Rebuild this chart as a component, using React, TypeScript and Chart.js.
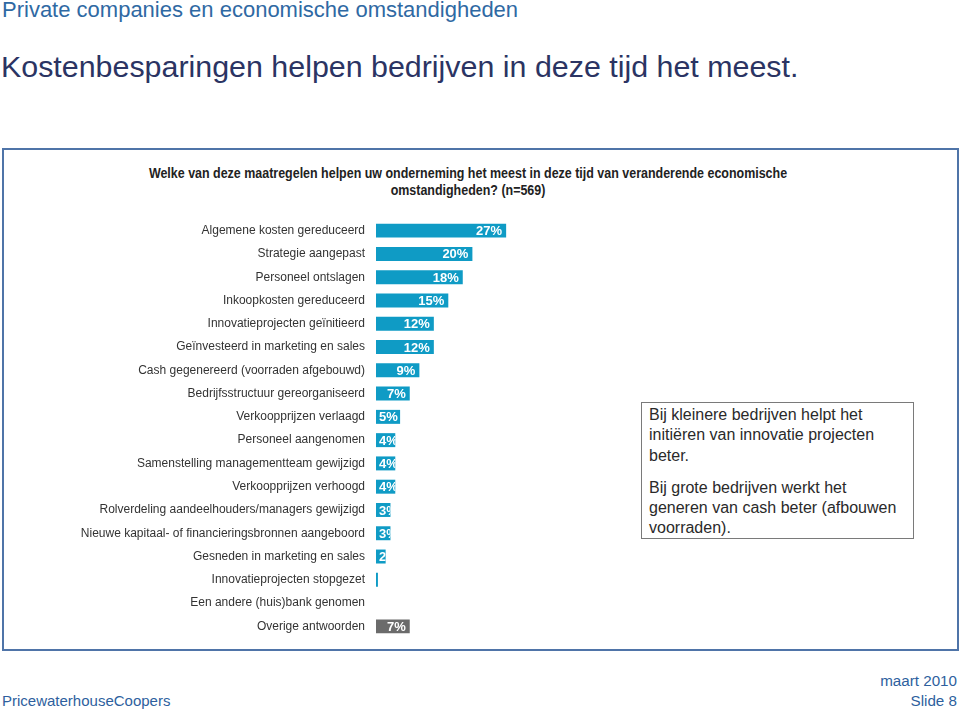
import React, { useEffect, useRef } from "react";
import { Chart, registerables } from "chart.js";

Chart.register(...registerables);

const categories = [
  "Algemene kosten gereduceerd",
  "Strategie aangepast",
  "Personeel ontslagen",
  "Inkoopkosten gereduceerd",
  "Innovatieprojecten geïnitieerd",
  "Geïnvesteerd in marketing en sales",
  "Cash gegenereerd (voorraden afgebouwd)",
  "Bedrijfsstructuur gereorganiseerd",
  "Verkoopprijzen verlaagd",
  "Personeel aangenomen",
  "Samenstelling managementteam gewijzigd",
  "Verkoopprijzen verhoogd",
  "Rolverdeling aandeelhouders/managers gewijzigd",
  "Nieuwe kapitaal- of financieringsbronnen aangeboord",
  "Gesneden in marketing en sales",
  "Innovatieprojecten stopgezet",
  "Een andere (huis)bank genomen",
  "Overige antwoorden",
];

const values = [27, 20, 18, 15, 12, 12, 9, 7, 5, 4, 4, 4, 3, 3, 2, 0.4, 0, 7];
const valueLabels = ["27%", "20%", "18%", "15%", "12%", "12%", "9%", "7%", "5%", "4%", "4%", "4%", "3%", "3%", "2%", "0%", "", "7%"];
const barColors = values.map((_, i) => (i === values.length - 1 ? "#6b6b6b" : "#0f9bc5"));

const FONT = "'Liberation Sans', Arial, sans-serif";

const labelPlugin = {
  id: "barLabels",
  afterDatasetsDraw(chart: any) {
    const ctx = chart.ctx;
    const meta = chart.getDatasetMeta(0);
    meta.data.forEach((bar: any, i: number) => {
      const txt = valueLabels[i];
      if (!txt) return;
      const left = Math.min(bar.base, bar.x);
      const right = Math.max(bar.base, bar.x);
      const h = bar.height;
      if (right - left < 1) return;
      ctx.save();
      ctx.beginPath();
      ctx.rect(left, bar.y - h / 2, right - left, h);
      ctx.clip();
      ctx.fillStyle = "#ffffff";
      ctx.font = "bold 13px " + FONT;
      ctx.textAlign = "left";
      ctx.textBaseline = "middle";
      const w = ctx.measureText(txt).width;
      let x = right - 4 - w;
      if (x < left + 3) x = left + 3;
      ctx.fillText(txt, x, bar.y + 1);
      ctx.restore();
    });
  },
};

function BarChart() {
  const ref = useRef<HTMLCanvasElement | null>(null);
  useEffect(() => {
    if (!ref.current) return;
    const chart = new Chart(ref.current, {
      type: "bar",
      data: {
        labels: categories,
        datasets: [
          {
            data: values,
            backgroundColor: barColors,
            borderWidth: 0,
            barPercentage: 0.6,
            categoryPercentage: 1,
          },
        ],
      },
      options: {
        indexAxis: "y",
        animation: false,
        responsive: false,
        maintainAspectRatio: false,
        layout: { padding: 0 },
        plugins: { legend: { display: false }, tooltip: { enabled: false } },
        scales: {
          x: { display: false, min: 0, max: 50 },
          y: {
            grid: { display: false, drawTicks: false },
            border: { display: false },
            ticks: {
              color: "#333333",
              font: { family: FONT, size: 12 },
              padding: 11,
              autoSkip: false,
            },
            afterFit(scale: any) {
              scale.width = 376;
              scale.paddingTop = 0;
              scale.paddingBottom = 0;
            },
          },
        },
      },
      plugins: [labelPlugin],
    });
    return () => chart.destroy();
  }, []);
  return (
    <canvas
      ref={ref}
      width={617}
      height={419}
      style={{ position: "absolute", left: 0, top: 219, width: 617, height: 419 }}
    />
  );
}

export default function App() {
  useEffect(() => {
    document.body.style.margin = "0";
  }, []);
  return (
    <div style={{ position: "relative", width: 960, height: 711, background: "#fff", fontFamily: FONT, overflow: "hidden" }}>
      <div style={{ position: "absolute", left: 2, top: -3, fontSize: 22, color: "#2f69a3", whiteSpace: "nowrap" }}>
        Private companies en economische omstandigheden
      </div>
      <div style={{ position: "absolute", left: 1, top: 49, fontSize: 30.4, color: "#2b3463", whiteSpace: "nowrap" }}>
        Kostenbesparingen helpen bedrijven in deze tijd het meest.
      </div>
      <div
        style={{
          position: "absolute",
          left: 2,
          top: 148,
          width: 953,
          height: 499,
          border: "2px solid #4f74a8",
        }}
      />
      <div
        style={{
          position: "absolute",
          left: 68,
          top: 165,
          width: 800,
          textAlign: "center",
          fontWeight: "bold",
          fontSize: 14,
          lineHeight: "17px",
          color: "#222",
          transform: "scaleX(0.89)",
          transformOrigin: "center 0",
          whiteSpace: "nowrap",
        }}
      >
        Welke van deze maatregelen helpen uw onderneming het meest in deze tijd van veranderende economische
        <br />
        omstandigheden? (n=569)
      </div>
      <BarChart />
      <div
        style={{
          position: "absolute",
          left: 641,
          top: 402,
          width: 264,
          height: 133,
          border: "1px solid #7a7a7a",
          padding: "2px 0 0 7px",
          fontSize: 16,
          lineHeight: "20.3px",
          color: "#2a2a2a",
          whiteSpace: "nowrap",
        }}
      >
        <div>
          Bij kleinere bedrijven helpt het
          <br />
          initiëren van innovatie projecten
          <br />
          beter.
        </div>
        <div style={{ marginTop: 12 }}>
          Bij grote bedrijven werkt het
          <br />
          generen van cash beter (afbouwen
          <br />
          voorraden).
        </div>
      </div>
      <div style={{ position: "absolute", left: 2, top: 692, fontSize: 15, color: "#2e5f9e", whiteSpace: "nowrap" }}>
        PricewaterhouseCoopers
      </div>
      <div style={{ position: "absolute", right: 3, top: 671, fontSize: 15.2, color: "#2e5f9e", textAlign: "right", lineHeight: "20px" }}>
        maart 2010
        <br />
        Slide 8
      </div>
    </div>
  );
}
